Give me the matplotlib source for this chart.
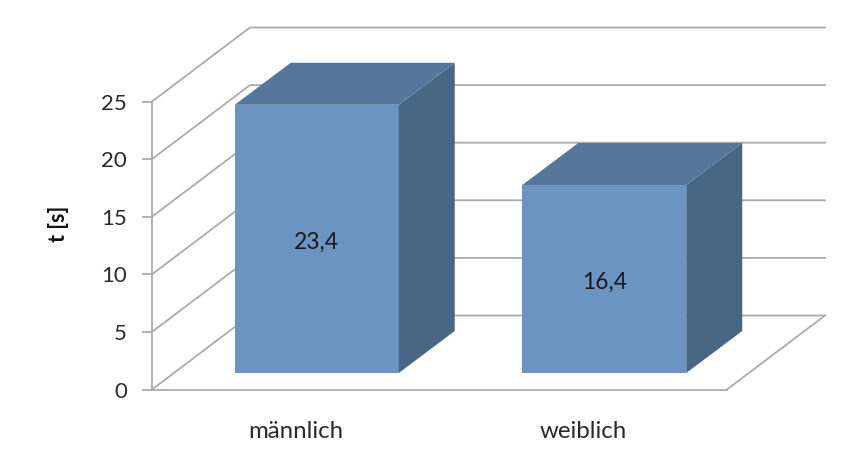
import matplotlib
matplotlib.use("Agg")
import matplotlib.pyplot as plt
from matplotlib.patches import Polygon

categories = ["männlich", "weiblich"]
values = [23.4, 16.4]
value_labels = ["23,4", "16,4"]
y_ticks = [0, 5, 10, 15, 20, 25]

plt.rcParams['font.family'] = ['Lato', 'DejaVu Sans']
W, H = 866, 450
fig = plt.figure(figsize=(W / 100, H / 100), dpi=100, facecolor='white')
L, R, Y0, Y25 = 152, 727, 389.5, 101.5
ax = fig.add_axes([L / W, 1 - Y0 / H, (R - L) / W, (Y0 - Y25) / H])
ax.set_xlim(-0.5, 1.5)
ax.set_ylim(0, 25)
ax.patch.set_alpha(0)

px_x = (R - L) / 2
px_y = (Y0 - Y25) / 25
GRID = '#ababab'

# depth of the 3D box and of the bars, in data units
wall_dx, wall_dy = 98 / px_x, 74 / px_y
bar_dx, bar_dy = 56 / px_x, 42 / px_y
front_dx, front_dy = 21 / px_x, 16.5 / px_y
bar_w = 164 / px_x

for t in y_ticks:
    ax.plot([-0.5, -0.5 + wall_dx, 1.5 + wall_dx], [t, t + wall_dy, t + wall_dy],
            color=GRID, lw=1.3, clip_on=False, zorder=1, solid_joinstyle='miter')
ax.plot([1.5, 1.5 + wall_dx], [0, wall_dy], color=GRID, lw=1.3, clip_on=False, zorder=1)

for i, v in enumerate(values):
    x0 = i + front_dx - bar_w / 2
    x1 = x0 + bar_w
    b, t = front_dy, front_dy + v * 0.995
    ax.add_patch(Polygon([(x0, b), (x1, b), (x1, t), (x0, t)], closed=True,
                         fc='#6c94c3', ec='none', clip_on=False, zorder=3))
    ax.add_patch(Polygon([(x1, b), (x1 + bar_dx, b + bar_dy), (x1 + bar_dx, t + bar_dy), (x1, t)],
                         closed=True, fc='#4a6685', ec='none', clip_on=False, zorder=3))
    ax.add_patch(Polygon([(x0, t), (x1, t), (x1 + bar_dx, t + bar_dy), (x0 + bar_dx, t + bar_dy)],
                         closed=True, fc='#56769c', ec='none', clip_on=False, zorder=3))
    ax.annotate(value_labels[i], xy=((x0 + x1) / 2, (b + t) / 2), xytext=(0, -3),
                textcoords='offset pixels', ha='center', va='center',
                fontsize=16.4, color='#1a1a1a', zorder=4)

for s in ['top', 'right']:
    ax.spines[s].set_visible(False)
for s in ['left', 'bottom']:
    ax.spines[s].set_color(GRID)
    ax.spines[s].set_linewidth(1.3)
    ax.spines[s].set_zorder(2)

ax.set_yticks(y_ticks)
ax.set_xticks(range(len(categories)), categories)
ax.tick_params(axis='y', length=7, width=1.3, color=GRID, pad=11, labelsize=16, labelcolor='#2a2a2a')
ax.tick_params(axis='x', length=0, pad=23, labelsize=17.3, labelcolor='#2a2a2a')
ax.set_ylabel("t [s]", fontsize=15.5, fontweight='bold', color='#111111')
ax.yaxis.set_label_coords((69 - L) / (R - L), 0.575)

fig.savefig("out.png", dpi=100, facecolor='white')
